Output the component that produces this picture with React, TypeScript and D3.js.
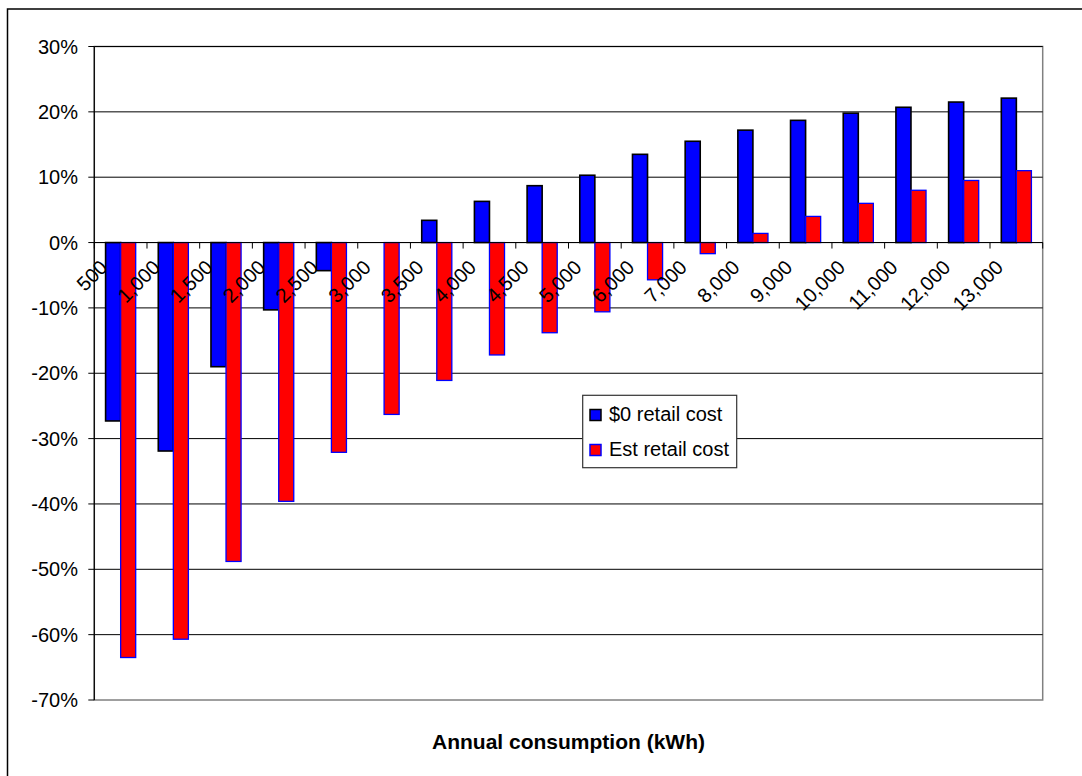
import React from "react";
import * as d3 from "d3";

// Annual consumption bands (kWh)
const categories = [
  "500", "1,000", "1,500", "2,000", "2,500", "3,000", "3,500", "4,000", "4,500",
  "5,000", "6,000", "7,000", "8,000", "9,000", "10,000", "11,000", "12,000", "13,000",
];

// Percentage change, $0 retail cost scenario
const zeroRetail = [
  -27.3, -31.9, -19.0, -10.3, -4.3, 0, 3.4, 6.3, 8.7,
  10.3, 13.5, 15.5, 17.2, 18.7, 19.8, 20.7, 21.5, 22.1,
];

// Percentage change, estimated retail cost scenario
const estRetail = [
  -63.5, -60.7, -48.8, -39.6, -32.1, -26.3, -21.1, -17.2, -13.8,
  -10.6, -5.7, -1.7, 1.4, 4.0, 6.0, 8.0, 9.5, 11.0,
];

const yTicks = [30, 20, 10, 0, -10, -20, -30, -40, -50, -60, -70];

const seriesNames = ["$0 retail cost", "Est retail cost"];

const FONT = "'Liberation Sans', Arial, Helvetica, sans-serif";

export default function App() {
  const W = 1082;
  const H = 776;
  const left = 94.3;
  const right = 1042.7;
  const top = 46.5;
  const bottom = 700;

  const x = d3.scaleBand<string>().domain(categories).range([left, right]).padding(0);
  const y = d3.scaleLinear().domain([-70, 30]).range([bottom, top]);
  const band = x.bandwidth();
  const bw = band / 3.5; // Excel-style 150% gap width
  const y0 = y(0);

  const bar = (v: number) => ({ y: Math.min(y(v), y0), h: Math.abs(y(v) - y0) });

  const legendX = 582.7;
  const legendY = 395.3;

  return (
    <svg
      width={W}
      height={H}
      style={{ position: "absolute", left: 0, top: 0, background: "#fff" }}
      fontFamily={FONT}
    >
      <rect x={0} y={0} width={W} height={H} fill="#fff" />
      {/* chart frame */}
      <rect x={7.5} y={9} width={1200} height={900} fill="none" stroke="#000" strokeWidth={1.5} />

      {/* plot area border */}
      <rect x={left} y={top} width={right - left} height={bottom - top} fill="none" stroke="#808080" strokeWidth={1.5} />

      {/* gridlines */}
      {yTicks.filter((t) => t > -70).map((t) => (
        <line key={"g" + t} x1={left} x2={right} y1={y(t)} y2={y(t)} stroke="#000" strokeWidth={1} />
      ))}

      {/* bars */}
      {categories.map((c, i) => {
        const x0 = (x(c) as number) + 0.75 * bw;
        const a = bar(zeroRetail[i]);
        const b = bar(estRetail[i]);
        return (
          <g key={c}>
            {zeroRetail[i] !== 0 && (
              <rect x={x0} y={a.y} width={bw} height={a.h} fill="#0000FF" stroke="#000" strokeWidth={1.6} />
            )}
            <rect x={x0 + bw} y={b.y} width={bw} height={b.h} fill="#FF0000" stroke="#0000FF" strokeWidth={1.3} />
          </g>
        );
      })}

      {/* category axis at zero */}
      <line x1={left} x2={right} y1={y0} y2={y0} stroke="#000" strokeWidth={1} />
      {categories.concat(["end"]).map((c, i) => {
        const tx = left + i * band;
        return <line key={"t" + i} x1={tx} x2={tx} y1={y0} y2={y0 + 6} stroke="#000" strokeWidth={1} />;
      })}
      {categories.map((c) => {
        const cx = (x(c) as number) + band / 2;
        const ax = cx - 12;
        const ay = y0 + 26;
        return (
          <text
            key={"l" + c}
            x={ax}
            y={ay}
            transform={`rotate(-45 ${ax} ${ay})`}
            textAnchor="end"
            fontSize={20}
            fill="#000"
          >
            {c}
          </text>
        );
      })}

      {/* value axis */}
      <line x1={left} x2={left} y1={top} y2={bottom} stroke="#000" strokeWidth={1.2} />
      {yTicks.map((t) => (
        <g key={"y" + t}>
          <line x1={left - 6} x2={left} y1={y(t)} y2={y(t)} stroke="#000" strokeWidth={1} />
          <text x={78} y={y(t) + 7} textAnchor="end" fontSize={20} fill="#000">
            {t + "%"}
          </text>
        </g>
      ))}

      {/* axis title */}
      <text x={(left + right) / 2} y={748.5} textAnchor="middle" fontSize={21} fontWeight="bold" fill="#000">
        Annual consumption (kWh)
      </text>

      {/* legend */}
      <rect x={legendX} y={legendY} width={154} height={72.4} fill="#fff" stroke="#333" strokeWidth={1.2} />
      <rect x={590} y={409.5} width={11} height={11} fill="#0000FF" stroke="#000" strokeWidth={1.5} />
      <text x={609} y={420.7} fontSize={20} fill="#000">{seriesNames[0]}</text>
      <rect x={590} y={444.5} width={11} height={11} fill="#FF0000" stroke="#0000FF" strokeWidth={1.5} />
      <text x={609} y={456} fontSize={20} fill="#000">{seriesNames[1]}</text>
    </svg>
  );
}
